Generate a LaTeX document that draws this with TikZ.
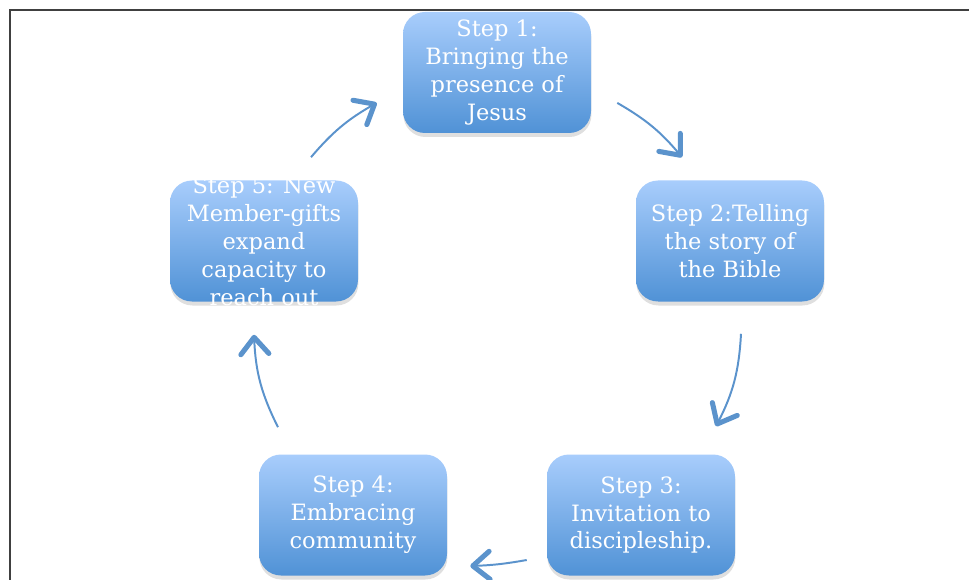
\documentclass[tikz,border=0pt]{standalone}
\usepackage{fontspec}
\setmainfont{DejaVu Serif}
\usetikzlibrary{arrows.meta,shadows}

\definecolor{boxtop}{RGB}{168,205,252}
\definecolor{boxbot}{RGB}{80,146,214}
\definecolor{arrowblue}{RGB}{91,147,204}
\definecolor{framegray}{RGB}{64,64,64}

\tikzset{
    stepbox/.style={rounded corners=0.55cm, minimum width=4.7cm, minimum height=3.025cm,
        top color=boxtop, bottom color=boxbot,
        drop shadow={shadow xshift=0.01cm, shadow yshift=-0.1cm, opacity=0.25}},
    steptext/.style={text=white, align=center, inner sep=0pt,
        font=\fontsize{16}{19.9}\selectfont},
    flow/.style={draw=arrowblue, line width=1.4pt,
        -{Straight Barb[length=4.2mm, width=7mm, line width=3.6pt, round]}}
}

\begin{document}
\begin{tikzpicture}
        \useasboundingbox (0,0) rectangle (24.225,-14.5);
        \draw[framegray, line width=1.3pt] (0.25,-14.5) -- (0.25,-0.25) -- (24.225,-0.25);

        %=== Steps ===
        \foreach \n/\x/\y/\text in {1/12.425/-1.8125/{Step 1:\\Bringing the\\presence of\\Jesus},
                                   2/18.25/-6.025/{Step 2:Telling\\the story of\\the Bible},
                                   3/16.025/-12.875/{Step 3:\\Invitation to\\discipleship.},
                                   4/8.825/-12.875/{Step 4:\\Embracing\\community},
                                   5/6.6/-6.025/{Step 5: New\\Member-gifts\\expand\\capacity to\\reach out}}
        {
            \node[stepbox] (b\n) at (\x,\y) {};
            \node[steptext] (t\n) at (b\n) {\text};
        }

        %=== Cycle ===
        \draw[flow] ([shift={(0.65,-0.76)}]b1.east) to[bend left=10] ([shift={(-1.2,0.575)}]b2.north);
        \draw[flow] ([shift={(0.275,-0.8)}]b2.south) to[bend left=12] ([shift={(1.875,0.7)}]b3.north);
        \draw[flow] ([shift={(-0.5,-1.125)}]b3.west) to[bend left=4] ([shift={(0.575,-1.275)}]b4.east);
        \draw[flow] ([shift={(-1.875,0.675)}]b4.north) to[bend left=12] ([shift={(-0.25,-0.825)}]b5.south);
        \draw[flow] ([shift={(1.175,0.575)}]b5.north) to[bend left=10] ([shift={(-0.65,-0.76)}]b1.west);
    \end{tikzpicture}
\end{document}
